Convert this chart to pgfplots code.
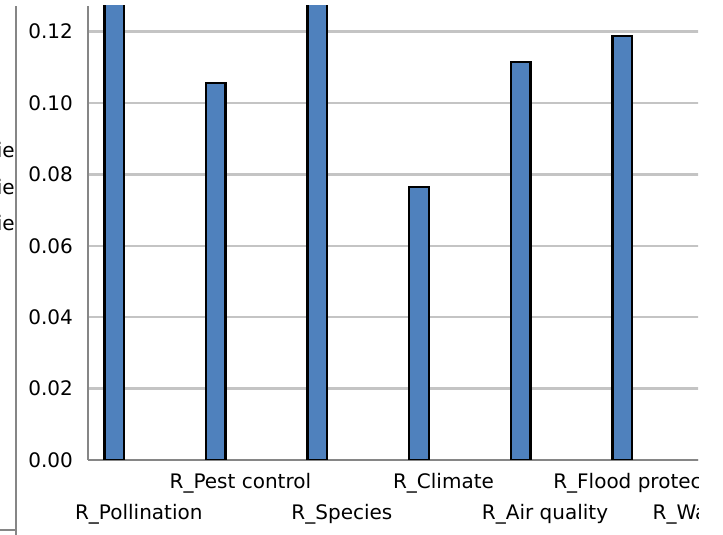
\documentclass[border=0pt]{standalone}
\usepackage{fontspec}
\setmainfont{DejaVu Sans}
\usepackage{pgfplots}
\pgfplotsset{compat=1.18}
\definecolor{barblue}{HTML}{4F81BD}
\definecolor{axisgray}{HTML}{868686}
\definecolor{gridgray}{HTML}{C4C4C4}

\begin{document}
\begin{tikzpicture}[x=1pt,y=1pt,font=\fontsize{10}{12}\selectfont]
\useasboundingbox (0,0) rectangle (361.5,267.5);
\clip (0,0) rectangle (349,267.5);
% edge of the legend frame
\draw[axisgray, line width=1.1pt] (8,-1) -- (8,264.5);
\draw[axisgray, line width=1.1pt] (-1,2.5) -- (8,2.5);
\begin{scope}
  \clip (0,0) rectangle (7.4,267.5);
  \foreach \y/\n in {188.5/1,170/2,152/3}
    \node[anchor=base east, inner sep=0pt] at (7.6,\y) {Serie\rlap{s\n}};
\end{scope}
\begin{axis}[
  at={(44pt,37.5pt)}, anchor=south west,
  scale only axis, width=355.5pt, height=227pt,
  xmin=-0.5, xmax=6.5, ymin=0, ymax=0.1272,
  axis lines=left,
  axis line style={-, axisgray, line width=1.4pt},
  major tick length=0pt,
  ymajorgrids, grid style={gridgray, line width=1.2pt},
  ytick={0,0.02,0.04,0.06,0.08,0.1,0.12},
  yticklabel style={anchor=east, xshift=-4pt,
    /pgf/number format/.cd, fixed, fixed zerofill, precision=2,
    assume math mode=true},
  xtick={1,3,5},
  xticklabels={R\_Pest control, R\_Climate, R\_Flood protection},
  xticklabel style={anchor=base, inner sep=0pt, yshift=-14.5pt},
  extra x ticks={0,2,4,6},
  extra x tick labels={R\_Pollination, R\_Species, R\_Air quality, R\_Water regulation},
  extra x tick style={grid=none, xticklabel style={yshift=-15.5pt}},
  ybar, bar width=9.75pt, bar shift=-12.25pt,
  clip=true,
]
\addplot[draw=black, fill=barblue, line width=1.2pt] coordinates {
  (0,0.140) (1,0.1056) (2,0.140) (3,0.0765) (4,0.1115) (5,0.1188)
};
\end{axis}
\end{tikzpicture}
\end{document}
